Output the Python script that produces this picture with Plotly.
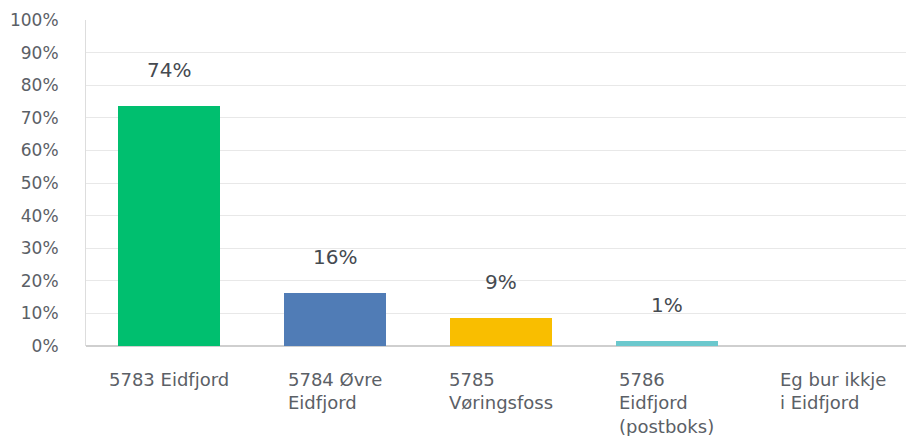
import plotly.graph_objects as go

categories = ["5783 Eidfjord", "5784 Øvre<br>Eidfjord", "5785<br>Vøringsfoss",
              "5786<br>Eidfjord<br>(postboks)", "Eg bur ikkje<br>i Eidfjord"]
values = [73.5, 16.3, 8.6, 1.4, 0.0]
value_labels = ["74%", "16%", "9%", "1%", ""]
colors = ["#00BF6F", "#507CB6", "#F9BE00", "#6BC8CD", "#A05DA5"]
y_ticks = [0, 10, 20, 30, 40, 50, 60, 70, 80, 90, 100]
y_tick_labels = [f"{t}%" for t in y_ticks]

FONT = "DejaVu Sans"
TXT = "#5b6066"

fig = go.Figure()
fig.add_trace(go.Bar(
    x=list(range(len(categories))), y=values,
    marker=dict(color=colors, line=dict(width=0)),
    width=0.61, hoverinfo="skip",
))

for i, (v, lab) in enumerate(zip(values, value_labels)):
    if lab:
        fig.add_annotation(x=i, y=v, xref="x", yref="y", text=lab,
                           showarrow=False, yanchor="middle", yshift=36,
                           font=dict(family=FONT, size=20, color="#454a50"))

for i, cat in enumerate(categories):
    fig.add_annotation(x=i, y=0, xref="x", yref="y", text=cat, align="left",
                       showarrow=False, xanchor="center", yanchor="top", yshift=-21,
                       font=dict(family=FONT, size=18, color=TXT))

fig.update_layout(
    width=906, height=436,
    margin=dict(l=86, r=0, t=20, b=90),
    paper_bgcolor="white", plot_bgcolor="white",
    showlegend=False,
    bargap=0,
    font=dict(family=FONT, size=17, color=TXT),
)
fig.update_xaxes(range=[-0.5, 4.44], showticklabels=False, showgrid=False,
                 zeroline=False, showline=False, fixedrange=True)
fig.update_yaxes(range=[0, 100], tickvals=y_ticks, ticktext=y_tick_labels,
                 showgrid=True, gridcolor="#e8e8e8", gridwidth=1,
                 zeroline=True, zerolinecolor="#cfcfcf", zerolinewidth=2,
                 showline=True, linecolor="#dddddd", linewidth=1,
                 ticks="", ticklabelstandoff=23,
                 tickfont=dict(family=FONT, size=17, color=TXT), fixedrange=True)

fig.write_html("out.html", config={"displayModeBar": False},
               post_script="document.body.style.margin='0';document.body.style.overflow='hidden';")
